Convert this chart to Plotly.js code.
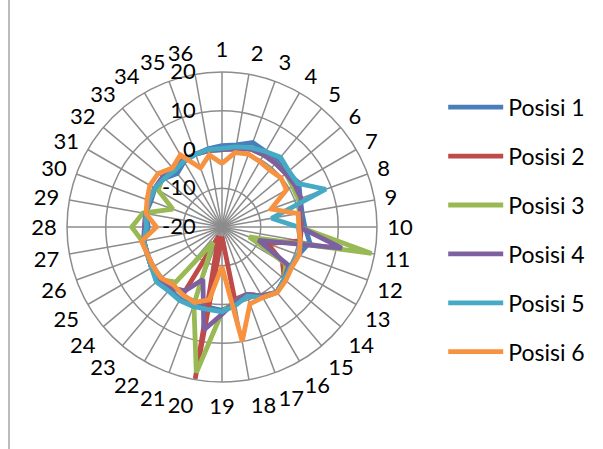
<!DOCTYPE html>
<html><head><meta charset="utf-8">
<script src="https://cdn.plot.ly/plotly-3.0.1.min.js"></script>
<style>html,body{margin:0;padding:0;background:#fff}#chart{width:603px;height:449px}</style>
</head><body><div id="chart"></div>
<script>
const categories = ['1','2','3','4','5','6','7','8','9','10','11','12','13','14','15','16','17','18','19','20','21','22','23','24','25','26','27','28','29','30','31','32','33','34','35','36'];
const seriesNames = ['Posisi 1','Posisi 2','Posisi 3','Posisi 4','Posisi 5','Posisi 6'];
const posisi1 = [1.0, 1.5, 3.2, 2.5, 2.2, 1.8, 2.9, 1.5, 1.0, 1.4, 3.0, 1.0, 0.5, 1.0, 2.0, 1.0, -1.0, 0.0, 1.5, 1.0, 1.5, 1.5, 1.0, 1.5, 1.0, 0.5, 0.5, -1.0, 0.0, -0.5, 0.0, -0.5, -2.0, -0.5, 0.0, 0.5];
const posisi2 = [0.0, 0.5, 1.5, 1.5, 1.5, 1.5, 1.5, 1.5, 0.5, 0.5, 0.5, -7.5, -2.0, 1.0, 2.0, 0.5, -1.5, -1.0, -17.5, 19.8, -17.5, -0.8, 0.5, 1.0, 1.0, 0.5, 0.5, 0.0, 0.0, 0.0, 0.0, 0.0, -0.5, 0.0, 0.0, 0.0];
const posisi3 = [0.0, 0.5, 1.5, 1.5, 1.5, 1.5, 1.0, 1.0, 0.5, 0.0, 19.2, -12.5, -1.0, 1.0, 2.0, 0.5, -1.5, -0.5, 2.0, 18.2, 1.2, -15.4, -1.4, 1.0, 1.0, 0.5, 0.9, 3.3, 0.7, -6.5, -1.0, 0.0, -0.5, 0.0, 0.0, 0.0];
const posisi4 = [0.0, 0.5, 1.5, 1.5, 1.5, 1.5, 1.7, 1.7, 0.5, 0.0, 11.4, -10.0, -0.1, 1.0, 2.0, 0.5, -1.5, -0.5, 2.5, 7.0, -5.6, -1.0, 0.5, 1.0, 1.0, 0.5, 0.5, 0.0, 0.0, 0.0, 0.0, 0.0, -0.5, 0.0, 0.0, 0.0];
const posisi5 = [0.3, 1.0, 1.8, 2.5, 3.5, 2.5, 2.5, 8.5, -7.0, -0.3, 0.5, 1.0, 0.5, 1.0, 2.0, 1.0, -1.0, 0.5, 1.9, 1.6, 1.8, 1.9, 1.5, 2.1, 1.0, 0.5, 0.5, -0.5, 0.0, 0.0, 0.0, -0.5, -1.0, -0.3, 0.0, 0.3];
const posisi6 = [-3.6, -0.5, 0.0, -0.5, -0.8, -0.2, -0.8, -6.5, 0.0, -0.2, 0.5, 1.2, 0.8, 1.5, 2.1, 1.0, 1.1, 10.0, -9.8, -0.9, 0.7, 0.2, -0.5, 0.5, 0.5, 0.5, 1.1, -3.1, -0.1, 0.6, 1.5, 1.5, -0.1, 1.5, -3.8, -1.1];
const radialTicks = [-20, -10, 0, 10, 20];

const colors = ['#4A7EBB','#BE4B48','#98B954','#7D60A0','#46AAC5','#F69240'];
const allSeries = [posisi1, posisi2, posisi3, posisi4, posisi5, posisi6];
const FONT = 'Lato, "Liberation Sans", sans-serif';

const traces = allSeries.map((vals, i) => ({
  type: 'scatterpolar',
  mode: 'lines',
  name: seriesNames[i],
  legendgroup: 'g' + i,
  r: vals.concat([vals[0]]),
  theta: categories.concat([categories[0]]),
  line: {color: colors[i], width: 4.8},
  hoverinfo: 'name+r+theta'
}));

const layout = {
  width: 603, height: 449,
  margin: {l: 0, r: 0, t: 0, b: 0},
  paper_bgcolor: '#ffffff',
  font: {family: FONT, size: 22, color: '#000000'},
  showlegend: true,
  legend: {
    x: 0.735, xanchor: 'left', y: 0.809, yanchor: 'top',
    font: {family: FONT, size: 23, color: '#000000'},
    tracegroupgap: 16, itemwidth: 55, bgcolor: 'rgba(0,0,0,0)'
  },
  polar: {
    domain: {x: [0.1111, 0.6252], y: [0.1492, 0.8396]},
    bgcolor: '#ffffff',
    angularaxis: {
      type: 'category', categoryarray: categories, direction: 'clockwise', rotation: 90,
      showline: true, linecolor: '#8c8c8c', linewidth: 1.5,
      gridcolor: '#8c8c8c', gridwidth: 1.5,
      ticks: 'outside', ticklen: 5, tickcolor: 'rgba(0,0,0,0)',
      tickfont: {family: FONT, size: 22, color: '#000000'}
    },
    radialaxis: {
      range: [-20, 20], tickvals: radialTicks, ticktext: radialTicks.map(String),
      angle: 90, tickangle: 90, side: 'counterclockwise', showline: false,
      gridcolor: '#8c8c8c', gridwidth: 1.5,
      ticks: 'outside', ticklen: 18, tickcolor: 'rgba(0,0,0,0)',
      tickfont: {family: FONT, size: 22, color: '#000000'}
    }
  },
  shapes: [
    {type: 'line', xref: 'paper', yref: 'paper', x0: 9/603, x1: 9/603, y0: 0, y1: 1, line: {color: '#a6a6a6', width: 1.5}}
  ]
};

Plotly.newPlot('chart', traces, layout, {displayModeBar: false, staticPlot: true});
</script></body></html>
